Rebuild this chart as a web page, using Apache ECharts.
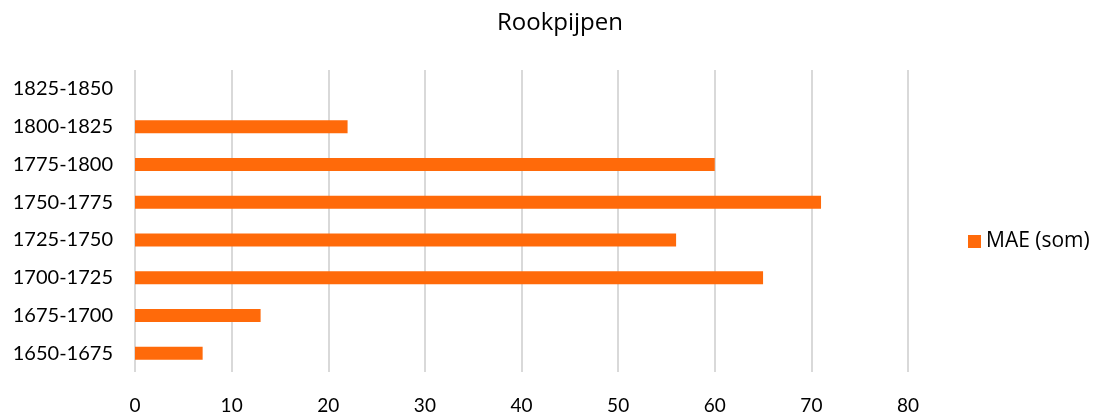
<!DOCTYPE html>
<html><head><meta charset="utf-8">
<script src="https://cdn.jsdelivr.net/npm/echarts@6/dist/echarts.min.js"></script>
<style>html,body{margin:0;padding:0;background:#fff}#c{width:1097px;height:417px}</style>
</head><body><div id="c"></div>
<script>
const categories = ['1650-1675','1675-1700','1700-1725','1725-1750','1750-1775','1775-1800','1800-1825','1825-1850'];
const values = [7, 13, 65, 56, 71, 60, 22, null];
const seriesName = 'MAE (som)';
const titleText = 'Rookpijpen';
const xTicks = [0, 10, 20, 30, 40, 50, 60, 70, 80];

const chart = echarts.init(document.getElementById('c'));
const font = 'Lato, "Open Sans", sans-serif';
chart.setOption({
  animation: false,
  title: {text: titleText, left: 555, top: 6, textAlign: 'center',
    textStyle: {fontFamily: '"Open Sans", sans-serif', fontSize: 24, fontWeight: 'normal', color: '#000'}},
  legend: {left: 963, top: 226, orient: 'vertical', itemWidth: 13, itemHeight: 13, itemGap: 5,
    icon: 'rect', data: [seriesName],
    textStyle: {fontFamily: '"Open Sans", sans-serif', fontSize: 21, color: '#000'}},
  grid: {left: 135, right: 189, top: 70, bottom: 45, containLabel: false},
  xAxis: {type: 'value', min: xTicks[0], max: xTicks[xTicks.length-1], interval: 10,
    axisLine: {show: false}, axisTick: {show: false},
    splitLine: {lineStyle: {color: '#d9d9d9', width: 2}},
    axisLabel: {margin: 24, fontFamily: font, fontSize: 19, color: '#000'}},
  yAxis: {type: 'category', data: categories,
    axisLine: {show: false}, axisTick: {show: false},
    axisLabel: {margin: 22, fontFamily: font, fontSize: 20, color: '#000'}},
  series: [{name: seriesName, type: 'bar', data: values, barWidth: 13,
    itemStyle: {color: '#ff6a0a'}}]
});
</script></body></html>
